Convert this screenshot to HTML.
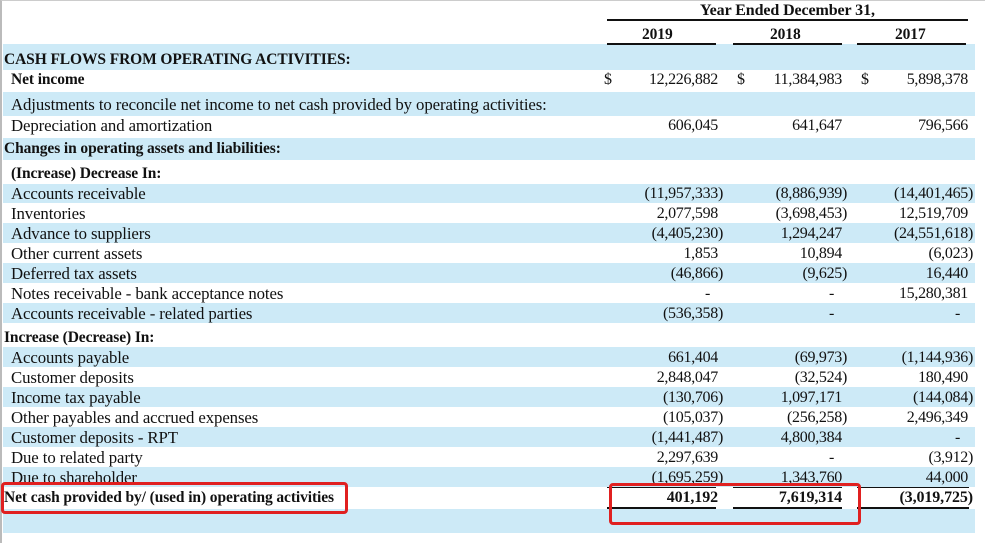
<!DOCTYPE html>
<html><head><meta charset="utf-8"><style>
body{margin:0;width:985px;height:544px;background:#fff;position:relative;overflow:hidden;font-family:"Liberation Serif",serif;color:#111}
.frame{position:absolute;left:0;top:0;width:983px;height:542px;border-left:2px solid #bbb;border-top:1px solid #ccc}
.band{position:absolute;left:3px;width:972px;background:#cdeaf7}
.t{position:absolute;white-space:nowrap;font-size:16.8px;line-height:20px;letter-spacing:-0.1px}
.b{font-weight:bold;font-size:15.5px}
.n{position:absolute;white-space:nowrap;font-size:16px;line-height:20px;text-align:right;letter-spacing:-0.3px}
.nb{font-weight:bold;letter-spacing:-0.1px}
.ln{position:absolute;height:2px;background:#111}
.red{position:absolute;border:3px solid #e02020;border-radius:4px}
</style></head><body>
<div class="frame"></div>
<div id="bands"></div>
<div class="t b" style="left:700px;top:1px;font-size:16px">Year Ended December 31,</div>
<div class="ln" style="left:607px;top:19px;width:361px"></div>
<div class="t b" style="left:642px;top:25px;font-size:15.5px">2019</div>
<div class="t b" style="left:770px;top:25px;font-size:15.5px">2018</div>
<div class="t b" style="left:895px;top:25px;font-size:15.5px">2017</div>
<div class="ln" style="left:607px;top:43px;width:109px"></div>
<div class="ln" style="left:733px;top:43px;width:109px"></div>
<div class="ln" style="left:857px;top:43px;width:109px"></div>
<div id="rows"></div>
<div class="red" style="left:1px;top:482px;width:341px;height:26px"></div>
<div class="red" style="left:609px;top:483px;width:246px;height:36px"></div>
<script>
const bandTops=[44,92,138,184,223,263,303,347,387,427,467,509];
const bandHeights=[26,24,22,19,20,20,20,20,20,20,20,24];
const labels=["CASH FLOWS FROM OPERATING ACTIVITIES:","Net income","Adjustments to reconcile net income to net cash provided by operating activities:","Depreciation and amortization","Changes in operating assets and liabilities:","(Increase) Decrease In:","Accounts receivable","Inventories","Advance to suppliers","Other current assets","Deferred tax assets","Notes receivable - bank acceptance notes","Accounts receivable - related parties","Increase (Decrease) In:","Accounts payable","Customer deposits","Income tax payable","Other payables and accrued expenses","Customer deposits - RPT","Due to related party","Due to shareholder","Net cash provided by/ (used in) operating activities"];
const rowTops=[50,70,95,116,139,164,184,204,224,244,264,284,304,328,348,368,388,408,428,448,468,488];
const indent=[0,1,1,1,0,1,1,1,1,1,1,1,1,0,1,1,1,1,1,1,1,0];
const bold=[1,1,0,0,1,1,0,0,0,0,0,0,0,1,0,0,0,0,0,0,0,1];
const v2019=["","12,226,882","","606,045","","","(11,957,333)","2,077,598","(4,405,230)","1,853","(46,866)","-","(536,358)","","661,404","2,848,047","(130,706)","(105,037)","(1,441,487)","2,297,639","(1,695,259)","401,192"];
const v2018=["","11,384,983","","641,647","","","(8,886,939)","(3,698,453)","1,294,247","10,894","(9,625)","-","-","","(69,973)","(32,524)","1,097,171","(256,258)","4,800,384","-","1,343,760","7,619,314"];
const v2017=["","5,898,378","","796,566","","","(14,401,465)","12,519,709","(24,551,618)","(6,023)","16,440","15,280,381","-","","(1,144,936)","180,490","(144,084)","2,496,349","-","(3,912)","44,000","(3,019,725)"];
const B=document.getElementById('bands');
bandTops.forEach((t,i)=>{const d=document.createElement('div');d.className='band';d.style.top=t+'px';d.style.height=bandHeights[i]+'px';


B.appendChild(d);});
const R=document.getElementById('rows');
const rights=[718,842,968];const dollars=[604,737,861];
const last=labels.length-1;
labels.forEach((l,i)=>{
 const d=document.createElement('div');d.className='t'+(bold[i]?' b':'');d.style.left=(indent[i]?11:4)+'px';d.style.top=rowTops[i]+'px';d.textContent=l;
 
 
 R.appendChild(d);
 [v2019,v2018,v2017].forEach((arr,c)=>{
  if(!arr[i])return;
  const n=document.createElement('div');n.className='n'+(i===last?' nb':'');n.style.right=(985-rights[c]-(arr[i].endsWith(')')?5:0))+'px';n.style.top=rowTops[i]+'px';
  if(arr[i]==='-'){n.style.right=(985-rights[c]+8)+'px';}
  n.textContent=arr[i];
  
  
  R.appendChild(n);
  if(i===1){const s=document.createElement('div');s.className='n';s.style.left=dollars[c]+'px';s.style.top=rowTops[i]+'px';s.textContent='$';
   
   
   R.appendChild(s);}
 });
});
[[607,109],[733,109],[857,112]].forEach(([x,w])=>{[487,507].forEach(y=>{const l=document.createElement('div');l.className='ln';l.style.left=x+'px';l.style.width=w+'px';l.style.top=y+'px';l.style.height=(y===487?1:2)+'px';


R.appendChild(l);});});
</script>
</body></html>
